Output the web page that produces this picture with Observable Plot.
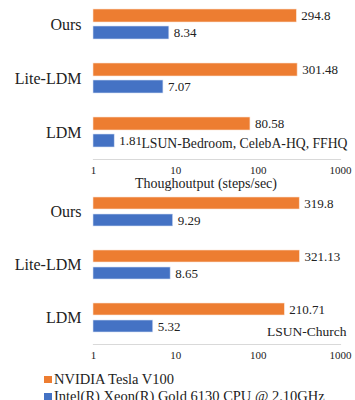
<!DOCTYPE html>
<html>
<head>
<meta charset="utf-8">
<script src="https://cdn.jsdelivr.net/npm/d3@7"></script>
<script src="https://cdn.jsdelivr.net/npm/@observablehq/plot@0.6"></script>
<style>
  body { margin: 0; background: #fff; font-family: "Liberation Serif", "DejaVu Serif", serif; }
  #chart svg { display: block; }
  .legend { padding-top: 7px; margin-left: 44px; font-size: 14.5px; line-height: 17px; color: #222; white-space: nowrap; }
  .legend span.sw { display: inline-block; width: 8px; height: 7px; margin-right: 2px; vertical-align: 1px; }
</style>
</head>
<body>
<div id="chart"></div>
<script>
const models = ["Ours", "Lite-LDM", "LDM"];
const seriesNames = ["NVIDIA Tesla V100", "Intel(R) Xeon(R) Gold 6130 CPU @ 2.10GHz"];
const seriesColors = ["#ED7D31", "#4472C4"];
const gpuTop = [294.8, 301.48, 80.58];
const cpuTop = [8.34, 7.07, 1.81];
const gpuBottom = [319.8, 321.13, 210.71];
const cpuBottom = [9.29, 8.65, 5.32];
const xTicks = [1, 10, 100, 1000];
const panelNotes = ["LSUN-Bedroom, CelebA-HQ, FFHQ", "LSUN-Church"];
const axisTitle = "Thoughoutput (steps/sec)";

function panel(gpu, cpu, note, opts) {
  const rows = models.map((m, i) => ({model: m, gpu: gpu[i], cpu: cpu[i]}));
  const marks = [
    Plot.frame({anchor: "bottom", stroke: "#d9d9d9", strokeWidth: 1.2}),
    Plot.barX(rows, {y: "model", x1: 1, x2: "gpu", fill: seriesColors[0], stroke: "#fbe3d3", strokeWidth: 0.6, insetTop: 12, insetBottom: 29}),
    Plot.barX(rows, {y: "model", x1: 1, x2: "cpu", fill: seriesColors[1], stroke: "#d6e0f3", strokeWidth: 0.6, insetTop: 29, insetBottom: 12}),
    Plot.text(rows, {y: "model", x: "gpu", text: d => String(d.gpu), dy: -8.5, dx: 4.5, textAnchor: "start", fontSize: 13, fill: "#222"}),
    Plot.text(rows, {y: "model", x: "cpu", text: d => String(d.cpu), dy: 8.5, dx: 4.5, textAnchor: "start", fontSize: 13, fill: "#222"}),
    Plot.text([note], {frameAnchor: "bottom-right", textAnchor: "end", dx: opts.noteDx, dy: opts.noteDy, fontSize: opts.noteSize, fill: "#222"}),
    Plot.axisY({tickSize: 0, tickPadding: 12, fontSize: 16, label: null, color: "#222"}),
    Plot.axisX(xTicks, {tickSize: 0, tickPadding: 7, fontSize: 11, label: null, tickFormat: d => String(d), color: "#222"})
  ];
  if (opts.title) {
    marks.push(Plot.text([opts.title], {frameAnchor: "bottom", dy: 28, dx: -11, fontSize: 14, fill: "#222"}));
  }
  return Plot.plot({
    width: 355,
    height: opts.height,
    marginLeft: 93,
    marginRight: 15,
    marginTop: opts.marginTop,
    marginBottom: opts.marginBottom,
    x: {type: "log", domain: [1, 1000]},
    y: {domain: models, padding: 0},
    style: {fontFamily: "Liberation Serif, DejaVu Serif, serif", background: "#fff", color: "#222", overflow: "visible"},
    marks
  });
}

const chart = document.getElementById("chart");
chart.appendChild(panel(gpuTop, cpuTop, panelNotes[0], {height: 192, marginTop: -3, marginBottom: 33, noteDx: 7, noteDy: -12, noteSize: 13.7, title: axisTitle}));
chart.appendChild(panel(gpuBottom, cpuBottom, panelNotes[1], {height: 172, marginTop: -8, marginBottom: 20, noteDx: 6, noteDy: -9, noteSize: 13.5}));

const legend = document.createElement("div");
legend.className = "legend";
seriesNames.forEach((name, i) => {
  const row = document.createElement("div");
  const sw = document.createElement("span");
  sw.className = "sw";
  sw.style.background = seriesColors[i];
  row.appendChild(sw);
  row.appendChild(document.createTextNode(name));
  legend.appendChild(row);
});
chart.appendChild(legend);
</script>
</body>
</html>
